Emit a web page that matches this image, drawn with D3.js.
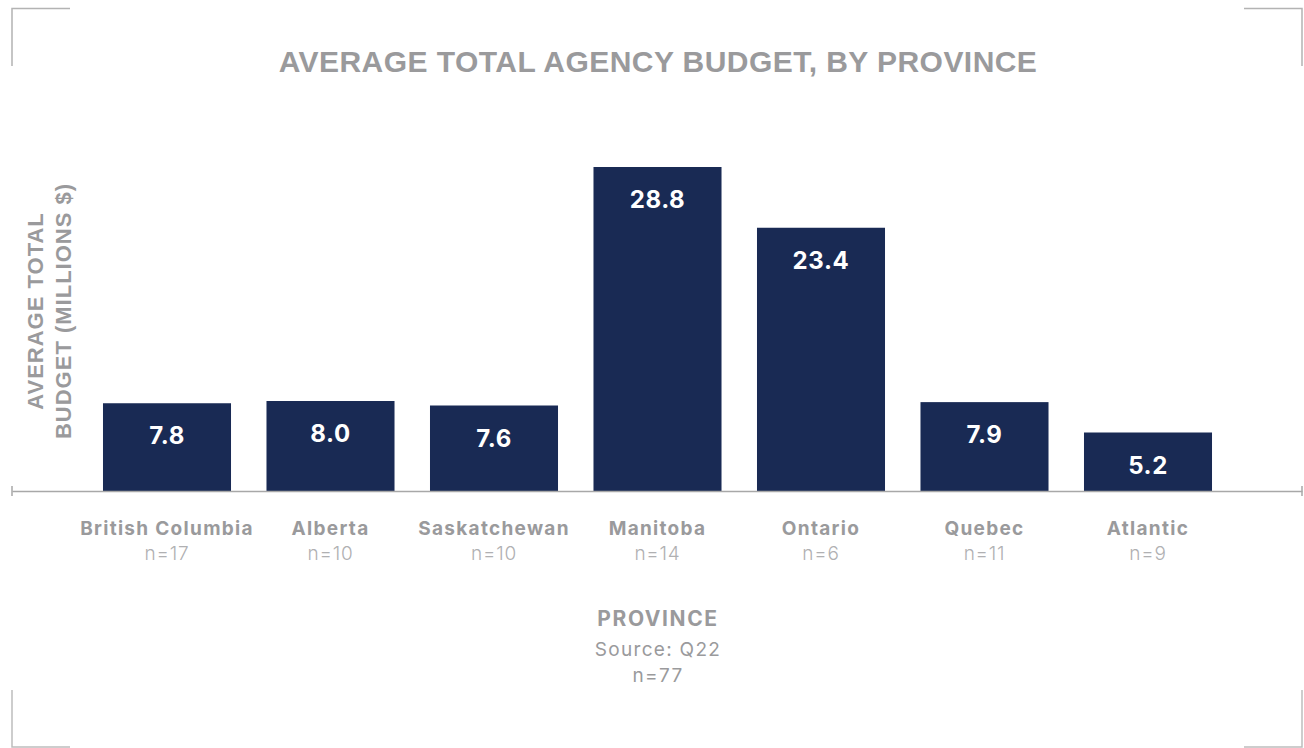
<!DOCTYPE html>
<html>
<head>
<meta charset="utf-8">
<script src="https://cdn.jsdelivr.net/npm/d3@7"></script>
<style>
  html, body { margin: 0; padding: 0; background: #fff; }
  svg { display: block; }
</style>
</head>
<body>
<svg id="chart" width="1304" height="748"></svg>
<script>
// Average total agency budget (millions $) by province
const provinces = ["British Columbia", "Alberta", "Saskatchewan", "Manitoba", "Ontario", "Quebec", "Atlantic"];
const budgets = [7.8, 8.0, 7.6, 28.8, 23.4, 7.9, 5.2];
const sampleSizes = [17, 10, 10, 14, 6, 11, 9];
const totalSample = 77;

const svg = d3.select("#chart");

const navy = "#192a54";
const gray = "#9a9a9c";
const lightGray = "#b0b0b2";
const labelFont = "Inter, 'Work Sans', 'Open Sans', sans-serif";
const titleFont = "'Liberation Sans', Arial, sans-serif";

const baseY = 491;
const x = d3.scaleBand()
  .domain(provinces)
  .range([85.25, 1229.75])
  .paddingInner(0.217)
  .paddingOuter(0.1085);

const y = d3.scaleLinear()
  .domain([0, 28.8])
  .range([baseY, 167]);

// corner brackets framing the chart
const frame = svg.append("g").attr("stroke", "#b3b3b3").attr("stroke-width", 1.5).attr("fill", "none");
frame.append("path").attr("d", "M12,66 V8.5 H70");
frame.append("path").attr("d", "M1244,8.5 H1302 V66");
frame.append("path").attr("d", "M12,690 V747 H70").attr("stroke", "#bdbdbd");
frame.append("path").attr("d", "M1302,690 V747 H1244").attr("stroke", "#bdbdbd");

// title
svg.append("text")
  .attr("x", 658).attr("y", 72)
  .attr("text-anchor", "middle")
  .attr("font-family", titleFont)
  .attr("font-weight", "bold")
  .attr("font-size", 30)
  .attr("letter-spacing", 0.45)
  .attr("fill", gray)
  .text("AVERAGE TOTAL AGENCY BUDGET, BY PROVINCE");

// bars
svg.append("g").selectAll("rect")
  .data(provinces)
  .join("rect")
  .attr("x", d => x(d))
  .attr("width", x.bandwidth())
  .attr("y", (d, i) => y(budgets[i]))
  .attr("height", (d, i) => baseY - y(budgets[i]))
  .attr("fill", navy);

// value labels inside bars
svg.append("g").selectAll("text")
  .data(provinces)
  .join("text")
  .attr("x", d => x(d) + x.bandwidth() / 2)
  .attr("y", (d, i) => y(budgets[i]) + 41)
  .attr("text-anchor", "middle")
  .attr("font-family", labelFont)
  .attr("font-weight", 700)
  .attr("font-size", 24)
  .attr("letter-spacing", 0.6)
  .attr("fill", "#ffffff")
  .text((d, i) => budgets[i].toFixed(1));

// baseline axis
const axis = d3.axisBottom(d3.scaleLinear().domain([0, 1]).range([12, 1302]))
  .tickValues([0, 1]).tickFormat("").tickSize(0).tickSizeOuter(0);
const axisG = svg.append("g").attr("transform", `translate(0,${baseY})`).call(axis);
axisG.select(".domain").attr("stroke", "#a8a8a8").attr("stroke-width", 1.5);
axisG.append("path").attr("d", "M12,-5 V5 M1302,-5 V5").attr("stroke", "#a8a8a8").attr("stroke-width", 1.5);

// category labels with sample sizes
const cat = svg.append("g").selectAll("g")
  .data(provinces)
  .join("g")
  .attr("transform", d => `translate(${x(d) + x.bandwidth() / 2},0)`);
cat.append("text")
  .attr("y", 535)
  .attr("text-anchor", "middle")
  .attr("font-family", labelFont)
  .attr("font-weight", 700)
  .attr("font-size", 19)
  .attr("letter-spacing", 1.3)
  .attr("fill", gray)
  .text(d => d);
cat.append("text")
  .attr("y", 560)
  .attr("text-anchor", "middle")
  .attr("font-family", labelFont)
  .attr("font-weight", 300)
  .attr("font-size", 19)
  .attr("letter-spacing", 0.8)
  .attr("fill", lightGray)
  .text((d, i) => "n=" + sampleSizes[i]);

// x axis title and source notes
svg.append("text")
  .attr("x", 658).attr("y", 626)
  .attr("text-anchor", "middle")
  .attr("font-family", labelFont)
  .attr("font-weight", 700)
  .attr("font-size", 21)
  .attr("letter-spacing", 1.6)
  .attr("fill", gray)
  .text("PROVINCE");
svg.append("text")
  .attr("x", 658).attr("y", 656)
  .attr("text-anchor", "middle")
  .attr("font-family", labelFont)
  .attr("font-weight", 400)
  .attr("font-size", 19)
  .attr("letter-spacing", 1.3)
  .attr("fill", gray)
  .text("Source: Q22");
svg.append("text")
  .attr("x", 658).attr("y", 682)
  .attr("text-anchor", "middle")
  .attr("font-family", labelFont)
  .attr("font-weight", 400)
  .attr("font-size", 19)
  .attr("letter-spacing", 1.3)
  .attr("fill", gray)
  .text("n=" + totalSample);

// y axis title (two lines, rotated)
const yTitle = svg.append("text")
  .attr("transform", "translate(0,311) rotate(-90)")
  .attr("text-anchor", "middle")
  .attr("font-family", titleFont)
  .attr("font-weight", "bold")
  .attr("font-size", 22)
  .attr("letter-spacing", 1)
  .attr("fill", gray);
yTitle.append("tspan").attr("x", 0).attr("y", 43).text("AVERAGE TOTAL");
yTitle.append("tspan").attr("x", 0).attr("y", 71).text("BUDGET (MILLIONS $)");
</script>
</body>
</html>
